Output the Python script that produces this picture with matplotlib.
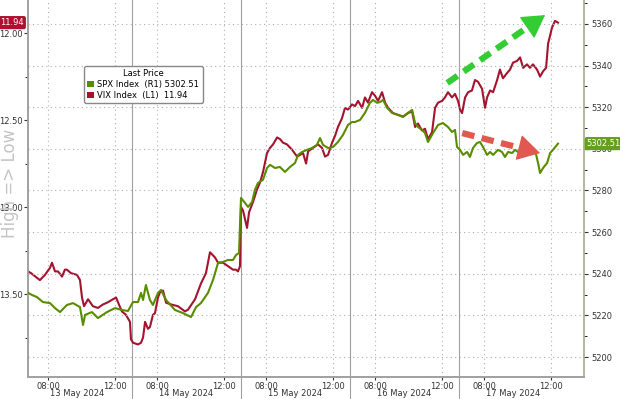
import numpy as np
from matplotlib import pyplot as plt
from matplotlib.ticker import MultipleLocator, FormatStrFormatter
from matplotlib.patches import Patch

# x = session hours counted from the 13 May open (06:30), 6.5 h per day
days = ['13 May 2024', '14 May 2024', '15 May 2024', '16 May 2024', '17 May 2024']
tick_labels = ['08:00', '12:00']
tick_hours = [1.5, 5.5]
session = 6.5

vix_t = [0.30, 0.48, 1.01, 1.31, 1.61, 1.73, 1.91, 2.09, 2.33, 2.50, 2.62, 2.86, 3.22, 3.40, 3.52, 3.64,
         3.88, 4.17, 4.47, 4.77, 5.01, 5.37, 5.55, 5.72, 5.90, 6.14, 6.38, 6.44, 6.56, 6.86, 7.04, 7.16,
         7.28, 7.45, 7.57, 7.75, 7.87, 8.05, 8.17, 8.35, 8.53, 8.83, 9.24, 9.66, 9.84, 10.26, 10.61, 10.91,
         11.15, 11.45, 11.63, 11.93, 12.22, 12.52, 12.70, 12.82, 12.94, 13.00, 13.12, 13.36, 13.48, 13.72,
         13.95, 14.13, 14.31, 14.55, 14.73, 14.91, 15.15, 15.33, 15.50, 15.74, 16.04, 16.34, 16.52, 16.70,
         16.88, 17.00, 17.29, 17.59, 17.83, 18.01, 18.19, 18.43, 18.61, 18.78, 19.02, 19.20, 19.38, 19.62,
         19.80, 19.98, 20.22, 20.39, 20.57, 20.81, 20.99, 21.17, 21.41, 21.59, 21.77, 22.06, 22.36, 22.66,
         22.96, 23.20, 23.38, 23.55, 23.79, 23.97, 24.15, 24.39, 24.57, 24.75, 24.99, 25.16, 25.34, 25.58,
         25.76, 25.94, 26.06, 26.18, 26.36, 26.54, 26.77, 26.95, 27.13, 27.37, 27.55, 27.67, 27.85, 28.03,
         28.27, 28.44, 28.62, 28.86, 29.04, 29.22, 29.46, 29.64, 29.82, 30.05, 30.23, 30.41, 30.65, 30.83,
         31.01, 31.19, 31.31, 31.54, 31.72, 31.90]
vix = [13.37, 13.38, 13.42, 13.39, 13.35, 13.32, 13.37, 13.37, 13.40, 13.36, 13.36, 13.38, 13.39, 13.42, 13.52, 13.57,
       13.53, 13.57, 13.58, 13.56, 13.55, 13.53, 13.52, 13.56, 13.60, 13.62, 13.66, 13.76, 13.78, 13.79, 13.78, 13.75,
       13.66, 13.70, 13.69, 13.62, 13.61, 13.52, 13.49, 13.48, 13.55, 13.56, 13.57, 13.60, 13.59, 13.53, 13.44, 13.38,
       13.26, 13.29, 13.32, 13.32, 13.34, 13.36, 13.36, 13.37, 13.34, 13.00, 13.02, 13.12, 13.03, 12.97,
       12.90, 12.86, 12.80, 12.69, 12.66, 12.64, 12.60, 12.61, 12.63, 12.64, 12.67, 12.71, 12.70, 12.69,
       12.75, 12.68, 12.66, 12.64, 12.66, 12.71, 12.70, 12.63, 12.59, 12.54, 12.49, 12.43, 12.44, 12.41,
       12.42, 12.39, 12.43, 12.37, 12.40, 12.34, 12.36, 12.39, 12.34, 12.40, 12.43, 12.46, 12.47, 12.48,
       12.46, 12.45, 12.54, 12.52, 12.56, 12.55, 12.61, 12.57, 12.43, 12.40, 12.39, 12.37, 12.34, 12.37,
       12.35, 12.39, 12.44, 12.46, 12.37, 12.34, 12.33, 12.27, 12.28, 12.32, 12.43, 12.37, 12.33, 12.34,
       12.27, 12.21, 12.26, 12.23, 12.21, 12.17, 12.16, 12.14, 12.20, 12.18, 12.20, 12.18, 12.21, 12.25,
       12.22, 12.20, 12.06, 11.97, 11.93, 11.94]

spx_t = [0.30, 0.54, 0.83, 1.19, 1.61, 1.91, 2.21, 2.62, 2.98, 3.40, 3.58, 3.70, 4.11, 4.47, 5.01, 5.49,
         5.90, 6.26, 6.56, 6.86, 7.04, 7.16, 7.33, 7.57, 7.75, 8.05, 8.23, 8.53, 9.06, 9.54, 10.02, 10.32,
         10.61, 11.03, 11.33, 11.63, 11.93, 12.22, 12.52, 12.70, 12.88, 13.00, 13.24, 13.42, 13.66, 13.83,
         14.01, 14.31, 14.55, 14.73, 15.03, 15.32, 15.62, 15.92, 16.22, 16.40, 16.64, 16.93, 17.23, 17.53,
         17.71, 17.89, 18.19, 18.49, 18.78, 19.08, 19.38, 19.62, 19.80, 20.10, 20.39, 20.69, 20.87, 21.11,
         21.29, 21.47, 21.71, 22.00, 22.36, 22.66, 22.96, 23.20, 23.38, 23.55, 23.79, 23.97, 24.15, 24.45,
         24.75, 25.04, 25.34, 25.58, 25.76, 25.88, 26.06, 26.24, 26.48, 26.65, 26.83, 27.07, 27.25, 27.43,
         27.67, 27.85, 28.03, 28.32, 28.56, 28.74, 28.92, 29.16, 29.34, 29.52, 29.76, 30.05, 30.35, 30.53,
         30.71, 30.83, 31.01, 31.25, 31.43, 31.60, 31.90]
spx = [5230.8, 5229.8, 5228.8, 5226.4, 5225.9, 5223.5, 5221.6, 5225.0, 5225.9, 5224.0, 5215.4, 5220.2, 5221.6, 5218.7, 5221.6, 5223.5,
       5222.6, 5222.1, 5226.4, 5226.4, 5230.8, 5227.4, 5234.6, 5227.4, 5225.0, 5230.8, 5232.2, 5227.4, 5222.6, 5221.1, 5219.2, 5224.0,
       5225.9, 5230.8, 5237.0, 5245.2, 5245.7, 5246.6, 5246.6, 5249.0, 5250.0, 5276.4, 5274.0, 5272.1, 5274.5, 5280.3,
       5283.6, 5285.1, 5290.8, 5292.3, 5290.8, 5291.3, 5288.9, 5291.3, 5293.2, 5297.1, 5298.5, 5299.5, 5300.4, 5301.9,
       5305.2, 5301.9, 5300.4, 5300.9, 5303.3, 5306.7, 5311.5, 5312.9, 5312.9, 5313.9, 5317.3, 5322.1, 5323.5, 5322.1,
       5322.5, 5323.5, 5319.7, 5317.3, 5316.3, 5315.3, 5317.3, 5318.7, 5312.4, 5310.5, 5309.1, 5307.6, 5303.3, 5307.6,
       5311.5, 5312.4, 5310.5, 5308.1, 5309.1, 5300.9, 5299.5, 5297.1, 5298.5, 5296.1, 5300.4, 5302.8, 5303.3, 5300.9,
       5297.1, 5298.5, 5297.1, 5299.5, 5298.5, 5296.1, 5298.5, 5298.0, 5299.5, 5298.5, 5299.5, 5298.0, 5298.5, 5299.5,
       5293.2, 5288.4, 5290.8, 5293.2, 5298.0, 5299.5, 5302.5]

spx_last = 5302.51
vix_last = 11.94

spx_col = '#5a8c00'
vix_col = '#a3142f'
grid_style = dict(color='#b0b0b0', linestyle=(0, (1, 3)), linewidth=0.8)

fig = plt.figure(figsize=(6.2, 3.99), dpi=100)
ax = fig.add_axes([28/620, 22/399, 556/620, 377/399])
ax2 = ax.twinx()

ax.plot(vix_t, vix, color=vix_col, lw=1.5, zorder=3)
ax2.plot(spx_t, spx, color=spx_col, lw=1.5, zorder=3)

# left axis, VIX inverted
ax.set_ylim(13.977, 11.81)
ax.yaxis.set_major_locator(MultipleLocator(0.5))
ax.yaxis.set_minor_locator(MultipleLocator(0.25))
ax.yaxis.set_major_formatter(FormatStrFormatter('%.2f'))
ax.tick_params(axis='y', labelsize=6, length=3, pad=1, colors='#333333')
ax.tick_params(axis='y', which='minor', length=2)

# right axis, SPX
ax2.set_ylim(5190.4, 5371.5)
ax2.yaxis.set_major_locator(MultipleLocator(20))
ax2.yaxis.set_minor_locator(MultipleLocator(10))
ax2.tick_params(axis='y', labelsize=6, length=3, pad=2, colors='#333333')
ax2.tick_params(axis='y', which='minor', length=2)
ax2.grid(axis='y', **grid_style)

# x axis
xt, xl = [], []
for k in range(len(days)):
    for h, lab in zip(tick_hours, tick_labels):
        xt.append(session*k + h)
        xl.append(lab)
ax.set_xlim(0.3, 33.45)
ax.set_xticks(xt)
ax.set_xticklabels(xl)
ax.tick_params(axis='x', labelsize=6, length=2, pad=1.5, colors='#333333')
ax.grid(axis='x', **grid_style)
for k in range(1, len(days)):
    ax.axvline(session*k, ymin=-0.06, ymax=1, color='#a0a0a0', lw=0.8, clip_on=False, zorder=1)
for k, d in enumerate(days):
    ax.text(session*k + session/2, -0.033, d, transform=ax.get_xaxis_transform(),
            ha='center', va='top', fontsize=6, color='#333333')

for a in (ax, ax2):
    a.spines['top'].set_visible(False)
    a.spines['left'].set_color('#a0a0a0')
    a.spines['bottom'].set_color('#a0a0a0')
    a.spines['right'].set_color('#b5b59a')
    for s in ('left', 'right', 'bottom'):
        a.spines[s].set_linewidth(1.2)

# last price tags
ax.annotate(f'{vix_last:.2f}', xy=(0, vix_last), xycoords=('axes fraction', 'data'),
            xytext=(-3, 0), textcoords='offset points', ha='right', va='center',
            fontsize=6, color='white', annotation_clip=False,
            bbox=dict(boxstyle='round,pad=0.25', fc='#b01030', ec='none'))
ax2.annotate(f'{spx_last:.2f}', xy=(1, spx_last), xycoords=('axes fraction', 'data'),
             xytext=(2, 0), textcoords='offset points', ha='left', va='center',
             fontsize=6, color='white', annotation_clip=False, zorder=10,
             bbox=dict(boxstyle='round,pad=0.25', fc='#64a01e', ec='none'))

# legend
handles = [Patch(fc=spx_col, ec='none'), Patch(fc=vix_col, ec='none')]
labels = [f'SPX Index  (R1) {spx_last:.2f}', f'VIX Index  (L1)  {vix_last:.2f}']
leg = ax2.legend(handles, labels, title='Last Price', loc='upper left',
                 bbox_to_anchor=(0.0935, 0.836), fontsize=6, title_fontsize=6,
                 fancybox=True, edgecolor='#888888', framealpha=1,
                 handlelength=0.8, handleheight=0.8, handletextpad=0.4,
                 borderpad=0.4, labelspacing=0.2)
leg.get_frame().set_linewidth(1)

# dashed trend arrows
def dashed_arrow(p0, p1, col):
    p0, p1 = np.array(p0), np.array(p1)
    mid = p0 + (p1 - p0)*0.84
    ax2.plot([p0[0], mid[0]], [p0[1], mid[1]], transform=ax2.transAxes,
             color=col, lw=4.5, linestyle=(0, (2, 1.2)), solid_capstyle='butt', zorder=5)
    ax2.annotate('', xy=p1, xytext=mid, xycoords='axes fraction', textcoords='axes fraction',
                 arrowprops=dict(arrowstyle='-|>,head_length=0.6,head_width=0.35', color=col,
                                 lw=1, mutation_scale=24, shrinkA=0, shrinkB=0), zorder=5)

dashed_arrow((0.754, 0.780), (0.930, 0.960), '#33cc33')
dashed_arrow((0.781, 0.647), (0.921, 0.594), '#e0584f')

fig.text(10/620, 1 - 183/399, 'High => Low', rotation=90, ha='center', va='center',
         fontsize=12, color='#c4c4c4')

fig.savefig('out.png', dpi=100)
